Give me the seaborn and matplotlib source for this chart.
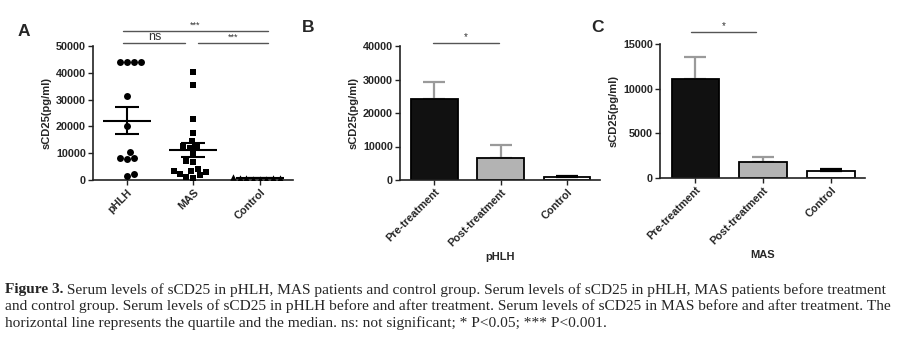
import numpy as np
import pandas as pd
import matplotlib
matplotlib.use("Agg")
import matplotlib.pyplot as plt
import seaborn as sns

# ---------------- data ----------------
groups_a = ["pHLH", "MAS", "Control"]
phlh_vals = [44000, 44000, 44000, 44000, 31500, 20300, 10300, 8100, 8000, 8100, 1600, 2200]
mas_vals = [40300, 35400, 22700, 17400, 14500, 12800, 12600, 12000, 9800, 7100, 6700,
            4200, 3500, 3300, 2800, 2300, 1800, 1200, 900]
control_vals = [500, 800, 300, 650, 900, 400, 700, 1000]

cats_bc = ["Pre-treatment", "Post-treatment", "Control"]
b_means = [24200, 6500, 900]
b_errs = [5100, 3900, 250]
c_means = [11100, 1850, 800]
c_errs = [2500, 450, 200]

caption_bold = "Figure 3."
caption_lines = [
    " Serum levels of sCD25 in pHLH, MAS patients and control group. Serum levels of sCD25 in pHLH, MAS patients before treatment",
    "and control group. Serum levels of sCD25 in pHLH before and after treatment. Serum levels of sCD25 in MAS before and after treatment. The",
    "horizontal line represents the quartile and the median. ns: not significant; * P<0.05; *** P<0.001.",
]

# ---------------- style ----------------
sns.set_theme(style="ticks")
plt.rcParams["font.family"] = ["Liberation Sans", "DejaVu Sans"]
W, H = 900, 337
fig = plt.figure(figsize=(W / 100, H / 100), dpi=100)
fig.patch.set_facecolor("white")

def px_axes(left, right, bottom, top):
    return fig.add_axes([left / W, 1 - bottom / H, (right - left) / W, (bottom - top) / H])

tick_fs = 7.8
lab_fs = 8.0
spine_c = "#222222"

def style_ax(ax):
    for s in ["top", "right"]:
        ax.spines[s].set_visible(False)
    for s in ["left", "bottom"]:
        ax.spines[s].set_linewidth(1.2)
        ax.spines[s].set_color(spine_c)
    ax.tick_params(axis="both", length=3.5, width=1.0, color=spine_c, pad=1.5)
    ax.set_facecolor("white")
    for lab in ax.get_yticklabels():
        lab.set_fontweight("bold")
        lab.set_fontsize(tick_fs)
    ax.set_xticks(ax.get_xticks())
    ax.set_xticklabels([t.get_text() for t in ax.get_xticklabels()], rotation=45,
                       ha="right", rotation_mode="anchor", fontsize=tick_fs, fontweight="bold")
    ax.set_ylabel("sCD25(pg/ml)", fontsize=lab_fs, fontweight="bold", labelpad=3)

# ---------------- Panel A ----------------
axA = px_axes(93, 293, 180, 46)
df_a = pd.DataFrame({
    "group": ["pHLH"] * len(phlh_vals) + ["MAS"] * len(mas_vals) + ["Control"] * len(control_vals),
    "value": phlh_vals + mas_vals + control_vals,
})
markers = {"pHLH": "o", "MAS": "s", "Control": "^"}
sizes = {"pHLH": 5.0, "MAS": 4.8, "Control": 4.6}
for g in groups_a:
    sns.swarmplot(data=df_a[df_a.group == g], x="group", y="value", order=groups_a,
                  marker=markers[g], color="black", size=sizes[g], ax=axA, linewidth=0)
for i, g in enumerate(groups_a):
    v = np.array(df_a[df_a.group == g]["value"], dtype=float)
    m = v.mean()
    se = v.std(ddof=1) / np.sqrt(len(v))
    axA.hlines(m, i - 0.36, i + 0.36, color="black", lw=1.5, zorder=5)
    axA.vlines(i, m - se, m + se, color="black", lw=1.5, zorder=5)
    axA.hlines([m - se, m + se], i - 0.18, i + 0.18, color="black", lw=1.5, zorder=5)
axA.set_ylim(0, 50000)
axA.set_xlim(-0.51, 2.5)
axA.set_yticks([0, 10000, 20000, 30000, 40000, 50000])
axA.set_xlabel("")
style_ax(axA)
br = "#555555"
axA.plot([-0.06, 2.12], [55600, 55600], color=br, lw=1.0, clip_on=False)
axA.text(1.03, 56000, "***", ha="center", va="bottom", fontsize=6.5, color="#333333")
axA.plot([-0.06, 0.87], [51100, 51100], color=br, lw=1.0, clip_on=False)
axA.text(0.42, 51000, "ns", ha="center", va="bottom", fontsize=9, color="#333333")
axA.plot([1.07, 2.12], [51100, 51100], color=br, lw=1.0, clip_on=False)
axA.text(1.6, 51500, "***", ha="center", va="bottom", fontsize=6.5, color="#333333")
fig.text(24 / W, 1 - 32 / H, "A", fontsize=12.5, fontweight="bold", ha="center", va="center")

# ---------------- Panels B, C ----------------
bar_colors = ["#111111", "#b3b3b3", "white"]
err_colors = ["#9a9a9a", "#9a9a9a", "black"]

def bar_panel(ax, means, errs, ymax, yticks, xlabel, sig_y, sig_x):
    d = pd.DataFrame({"cat": cats_bc, "val": means})
    sns.barplot(data=d, x="cat", y="val", hue="cat", order=cats_bc, hue_order=cats_bc,
                palette=bar_colors, edgecolor="black", linewidth=1.3, width=0.7,
                legend=False, ax=ax, errorbar=None)
    for i in range(3):
        ax.errorbar(i, means[i], yerr=[[0], [errs[i]]], color=err_colors[i], capsize=8,
                    elinewidth=1.6, capthick=1.6, zorder=0 if i < 2 else 3)
    ax.set_ylim(0, ymax)
    ax.set_yticks(yticks)
    ax.set_xlim(-0.52, 2.5)
    ax.set_xlabel(xlabel, fontsize=lab_fs, fontweight="bold", labelpad=3)
    style_ax(ax)
    ax.plot(sig_x, [sig_y, sig_y], color=br, lw=1.0, clip_on=False)
    ax.text(np.mean(sig_x), sig_y * 1.005, "*", ha="center", va="bottom", fontsize=7, color="#333333")

axB = px_axes(400, 600, 180, 46)
bar_panel(axB, b_means, b_errs, 40000, [0, 10000, 20000, 30000, 40000], "pHLH", 41000, [-0.02, 0.98])
fig.text(308 / W, 1 - 27 / H, "B", fontsize=12.5, fontweight="bold", ha="center", va="center")

axC = px_axes(660, 865, 178, 44.3)
bar_panel(axC, c_means, c_errs, 15000, [0, 5000, 10000, 15000], "MAS", 16350, [-0.07, 0.9])
fig.text(598 / W, 1 - 27 / H, "C", fontsize=12.5, fontweight="bold", ha="center", va="center")

# ---------------- caption ----------------
cap_fs = 11.1
serif = ["Liberation Serif", "DejaVu Serif"]
ys = [290, 306.5, 323]
fig.canvas.draw()
r = fig.canvas.get_renderer()
t0 = fig.text(5 / W, 1 - ys[0] / H, caption_bold, fontsize=cap_fs, fontweight="bold",
              family=serif, va="center", ha="left")
bb = t0.get_window_extent(renderer=r)
fig.text(bb.x1 / W, 1 - ys[0] / H, caption_lines[0], fontsize=cap_fs, family=serif, va="center", ha="left")
fig.text(5 / W, 1 - ys[1] / H, caption_lines[1], fontsize=cap_fs, family=serif, va="center", ha="left")
fig.text(5 / W, 1 - ys[2] / H, caption_lines[2], fontsize=cap_fs, family=serif, va="center", ha="left")

fig.savefig("out.png", dpi=100, facecolor="white")
